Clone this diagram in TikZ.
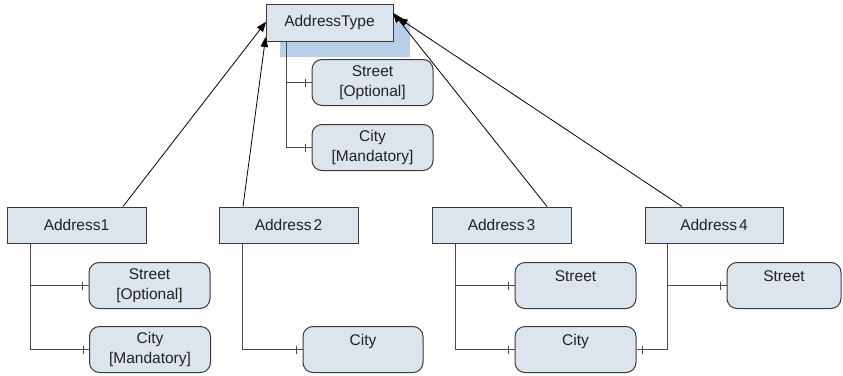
\documentclass[tikz,border=0pt]{standalone}
\usepackage{fontspec}
\setmainfont{Liberation Sans}
\usetikzlibrary{arrows.meta,decorations.markings}
\definecolor{boxfill}{HTML}{DCE4EE}
\definecolor{boxline}{HTML}{3A3A3A}
\definecolor{shadowblue}{HTML}{B8CFE7}
\definecolor{connline}{HTML}{4A4A4A}
\definecolor{txt}{HTML}{222222}
\tikzset{
  x=1pt, y=-1pt,
  every node/.style={font=\fontsize{15.5}{19.5}\selectfont, text=txt},
  entity/.style={draw=boxline, line width=1pt, fill=boxfill, rectangle, inner sep=0pt},
  attr/.style={draw=boxline, line width=1pt, fill=boxfill, rounded corners=10pt, inner sep=0pt,
    minimum width=121pt, minimum height=46pt, align=center, anchor=north},
  conn/.style={draw=connline, line width=0.9pt, postaction={decorate},
    decoration={markings, mark=at position -6pt with {\draw[connline, line width=0.9pt] (0,-4pt) -- (0,4pt);}}},
  arr/.style={draw=black, line width=0.8pt, -{Triangle[length=10pt,width=7.5pt]}, shorten >=-1pt},
}
\begin{document}
\begin{tikzpicture}
\useasboundingbox (0,0) rectangle (843,375);
% shadow behind AddressType
\fill[shadowblue] (280,22) rectangle (410,57);
% AddressType
\node[entity, minimum width=127pt, minimum height=37pt] (AT) at (329.5,22.5) {AddressType};
\node[attr] (ATs) at (372.5,59) {Street\\{[Optional]}};
\node[attr] (ATc) at (372.5,124) {City\\{[Mandatory]}};
\draw[conn] ([xshift=21pt]AT.south west) |- (ATs.west);
\draw[conn] ([xshift=21pt]AT.south west) |- (ATc.west);

% Address1
\node[entity, minimum width=139pt, minimum height=36pt] (A1) at (76.5,225) {Address1};
\node[attr] (A1s) at (149.5,262) {Street\\{[Optional]}};
\node[attr] (A1c) at (150,326) {City\\{[Mandatory]}};
\draw[conn] ([xshift=24pt]A1.south west) |- (A1s.west);
\draw[conn] ([xshift=24pt]A1.south west) |- (A1c.west);

% Address2
\node[entity, minimum width=139pt, minimum height=36pt] (A2) at (288.5,225) {Address\kern2pt 2};
\node[attr, minimum width=120pt] (A2c) at (363,326) {City\\\mbox{}};
\draw[conn] ([xshift=24pt]A2.south west) |- (A2c.west);

% Address3
\node[entity, minimum width=139pt, minimum height=36pt] (A3) at (501.5,225) {Address\kern2pt 3};
\node[attr] (A3s) at (575.5,262) {Street\\\mbox{}};
\node[attr] (A3c) at (575.5,326) {City\\\mbox{}};
\draw[conn] ([xshift=24pt]A3.south west) |- (A3s.west);
\draw[conn] ([xshift=24pt]A3.south west) |- (A3c.west);

% Address4
\node[entity, minimum width=138pt, minimum height=36pt] (A4) at (714,225) {Address\kern2pt 4};
\node[attr, minimum width=114pt] (A4s) at (784,262) {Street\\\mbox{}};
\draw[conn] ([xshift=23pt]A4.south west) |- (A4s.west);
\draw[conn] ([xshift=23pt]A4.south west) |- (A3c.east);

% generalisation arrows
\draw[arr] ([xshift=46.5pt]A1.north) -- (AT.west);
\draw[arr] ([xshift=-45.5pt]A2.north) -- ([yshift=-15.5pt]AT.west);
\draw[arr] ([xshift=45.5pt]A3.north) -- ([yshift=9pt]AT.east);
\draw[arr] ([xshift=-32pt]A4.north) -- ([xshift=5pt,yshift=4.5pt]AT.east);
\end{tikzpicture}
\end{document}
